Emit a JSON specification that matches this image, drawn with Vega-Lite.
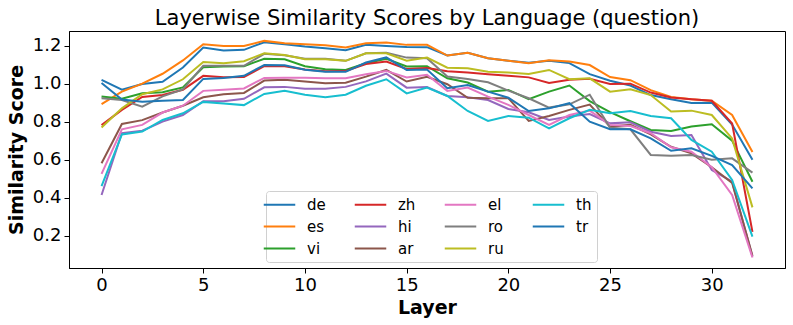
{
  "$schema": "https://vega.github.io/schema/vega-lite/v6.json",
  "width": 716,
  "height": 237,
  "autosize": {"type": "none"},
  "padding": {"left": 69, "top": 31, "right": 8, "bottom": 57},
  "background": "white",
  "title": {"text": "Layerwise Similarity Scores by Language (question)", "fontSize": 21, "font": "DejaVu Sans", "fontWeight": "normal", "color": "black", "anchor": "middle", "baseline": "alphabetic", "frame": "group", "offset": 7, "dy": 22},
  "config": {
    "view": {"stroke": "black", "strokeWidth": 1},
    "axis": {"grid": false, "domainColor": "black", "tickColor": "black", "labelColor": "black", "titleColor": "black", "labelFont": "DejaVu Sans", "titleFont": "DejaVu Sans", "labelFontSize": 18, "titleFontSize": 19, "titleFontWeight": "bold", "tickSize": 5, "labelPadding": 3}
  },
  "data": {"values": [
    {"layer":0,"de":1.02,"es":0.892,"vi":0.932,"zh":0.782,"hi":0.414,"ar":0.581,"el":0.525,"ro":0.923,"ru":0.769,"th":0.461,"tr":1.003},
    {"layer":1,"de":0.968,"es":0.958,"vi":0.921,"zh":0.862,"hi":0.74,"ar":0.788,"el":0.76,"ro":0.914,"ru":0.87,"th":0.733,"tr":0.916},
    {"layer":2,"de":0.998,"es":1.0,"vi":0.949,"zh":0.93,"hi":0.752,"ar":0.808,"el":0.783,"ro":0.879,"ru":0.944,"th":0.748,"tr":0.905},
    {"layer":3,"de":1.01,"es":1.052,"vi":0.955,"zh":0.94,"hi":0.8,"ar":0.848,"el":0.848,"ro":0.933,"ru":0.97,"th":0.809,"tr":0.91},
    {"layer":4,"de":1.085,"es":1.122,"vi":0.98,"zh":0.968,"hi":0.835,"ar":0.884,"el":0.884,"ro":0.97,"ru":1.023,"th":0.844,"tr":0.914},
    {"layer":5,"de":1.19,"es":1.207,"vi":1.086,"zh":1.041,"hi":0.908,"ar":0.928,"el":0.962,"ro":1.094,"ru":1.114,"th":0.904,"tr":1.025},
    {"layer":6,"de":1.175,"es":1.198,"vi":1.09,"zh":1.034,"hi":0.908,"ar":0.944,"el":0.968,"ro":1.094,"ru":1.107,"th":0.895,"tr":1.03},
    {"layer":7,"de":1.178,"es":1.198,"vi":1.092,"zh":1.035,"hi":0.92,"ar":0.951,"el":0.975,"ro":1.094,"ru":1.118,"th":0.887,"tr":1.041},
    {"layer":8,"de":1.218,"es":1.225,"vi":1.131,"zh":1.092,"hi":0.981,"ar":1.016,"el":1.03,"ro":1.157,"ru":1.16,"th":0.946,"tr":1.098},
    {"layer":9,"de":1.207,"es":1.213,"vi":1.128,"zh":1.092,"hi":0.983,"ar":1.02,"el":1.031,"ro":1.149,"ru":1.151,"th":0.962,"tr":1.097},
    {"layer":10,"de":1.195,"es":1.207,"vi":1.092,"zh":1.074,"hi":0.973,"ar":1.011,"el":1.031,"ro":1.131,"ru":1.128,"th":0.942,"tr":1.073},
    {"layer":11,"de":1.186,"es":1.202,"vi":1.076,"zh":1.065,"hi":0.973,"ar":1.002,"el":1.028,"ro":1.131,"ru":1.128,"th":0.929,"tr":1.062},
    {"layer":12,"de":1.176,"es":1.19,"vi":1.072,"zh":1.066,"hi":0.983,"ar":1.005,"el":1.028,"ro":1.12,"ru":1.12,"th":0.942,"tr":1.062},
    {"layer":13,"de":1.204,"es":1.212,"vi":1.107,"zh":1.103,"hi":1.012,"ar":1.037,"el":1.049,"ro":1.16,"ru":1.16,"th":0.989,"tr":1.111},
    {"layer":14,"de":1.198,"es":1.217,"vi":1.131,"zh":1.116,"hi":1.053,"ar":1.072,"el":1.067,"ro":1.163,"ru":1.16,"th":1.023,"tr":1.138},
    {"layer":15,"de":1.193,"es":1.204,"vi":1.09,"zh":1.077,"hi":0.979,"ar":1.011,"el":1.032,"ro":1.137,"ru":1.121,"th":0.949,"tr":1.072},
    {"layer":16,"de":1.192,"es":1.204,"vi":1.092,"zh":1.082,"hi":0.982,"ar":1.036,"el":1.047,"ro":1.134,"ru":1.137,"th":0.979,"tr":1.075},
    {"layer":17,"de":1.148,"es":1.148,"vi":1.028,"zh":1.065,"hi":0.935,"ar":0.997,"el":0.962,"ro":1.037,"ru":1.084,"th":0.935,"tr":0.976},
    {"layer":18,"de":1.163,"es":1.163,"vi":1.006,"zh":1.058,"hi":0.928,"ar":0.926,"el":0.979,"ro":1.025,"ru":1.081,"th":0.856,"tr":0.993},
    {"layer":19,"de":1.134,"es":1.134,"vi":0.958,"zh":1.05,"hi":0.914,"ar":0.923,"el":0.932,"ro":1.007,"ru":1.063,"th":0.804,"tr":0.958},
    {"layer":20,"de":1.121,"es":1.121,"vi":0.967,"zh":1.041,"hi":0.867,"ar":0.923,"el":0.888,"ro":0.963,"ru":1.058,"th":0.83,"tr":0.926},
    {"layer":21,"de":1.11,"es":1.107,"vi":0.918,"zh":1.033,"hi":0.849,"ar":0.804,"el":0.835,"ro":0.923,"ru":1.051,"th":0.821,"tr":0.856},
    {"layer":22,"de":1.121,"es":1.123,"vi":0.958,"zh":1.004,"hi":0.809,"ar":0.83,"el":0.783,"ro":0.874,"ru":1.072,"th":0.765,"tr":0.87},
    {"layer":23,"de":1.108,"es":1.116,"vi":0.99,"zh":1.02,"hi":0.827,"ar":0.862,"el":0.835,"ro":0.891,"ru":1.023,"th":0.818,"tr":0.897},
    {"layer":24,"de":1.05,"es":1.098,"vi":0.908,"zh":1.026,"hi":0.84,"ar":0.89,"el":0.858,"ro":0.942,"ru":1.028,"th":0.862,"tr":0.8},
    {"layer":25,"de":1.015,"es":1.035,"vi":0.85,"zh":0.998,"hi":0.791,"ar":0.774,"el":0.783,"ro":0.768,"ru":0.958,"th":0.844,"tr":0.76},
    {"layer":26,"de":0.99,"es":1.018,"vi":0.802,"zh":1.0,"hi":0.797,"ar":0.783,"el":0.777,"ro":0.76,"ru":0.97,"th":0.856,"tr":0.76},
    {"layer":27,"de":0.94,"es":0.966,"vi":0.756,"zh":0.953,"hi":0.747,"ar":0.733,"el":0.739,"ro":0.625,"ru":0.94,"th":0.83,"tr":0.712},
    {"layer":28,"de":0.918,"es":0.93,"vi":0.751,"zh":0.927,"hi":0.725,"ar":0.668,"el":0.665,"ro":0.62,"ru":0.853,"th":0.818,"tr":0.647},
    {"layer":29,"de":0.898,"es":0.918,"vi":0.774,"zh":0.918,"hi":0.73,"ar":0.633,"el":0.642,"ro":0.625,"ru":0.858,"th":0.704,"tr":0.66},
    {"layer":30,"de":0.9,"es":0.91,"vi":0.786,"zh":0.91,"hi":0.546,"ar":0.56,"el":0.56,"ro":0.6,"ru":0.835,"th":0.642,"tr":0.62},
    {"layer":31,"de":0.785,"es":0.835,"vi":0.7,"zh":0.79,"hi":0.484,"ar":0.478,"el":0.414,"ro":0.607,"ru":0.712,"th":0.493,"tr":0.572},
    {"layer":32,"de":0.6,"es":0.64,"vi":0.484,"zh":0.22,"hi":0.09,"ar":0.095,"el":0.085,"ro":0.532,"ru":0.349,"th":0.195,"tr":0.449}
  ]},
  "transform": [{"fold": ["de","es","vi","zh","hi","ar","el","ro","ru","th","tr"], "as": ["lang","score"]}],
  "mark": {"type": "line", "strokeWidth": 2, "clip": true},
  "encoding": {
    "x": {"field": "layer", "type": "quantitative", "scale": {"domain": [-1.6, 33.6], "nice": false, "zero": false}, "axis": {"values": [0,5,10,15,20,25,30], "title": "Layer", "titlePadding": 4}},
    "y": {"field": "score", "type": "quantitative", "scale": {"domain": [0.03, 1.277], "nice": false, "zero": false}, "axis": {"values": [0.2,0.4,0.6,0.8,1.0,1.2], "format": ".1f", "title": "Similarity Score", "titlePadding": 6}},
    "color": {"field": "lang", "type": "nominal",
      "scale": {"domain": ["de","es","vi","zh","hi","ar","el","ro","ru","th","tr"],
                "range": ["#1f77b4","#ff7f0e","#2ca02c","#d62728","#9467bd","#8c564b","#e377c2","#7f7f7f","#bcbd22","#17becf","#1f77b4"]},
      "legend": {"title": null, "orient": "none", "legendX": 197, "legendY": 160, "columns": 4, "symbolType": "M-2.1,0H2.1", "symbolSize": 225, "symbolStrokeWidth": 2, "labelFontSize": 15, "labelFont": "DejaVu Sans", "labelColor": "black", "labelOffset": 19, "columnPadding": 24, "rowPadding": 5, "padding": 5, "fillColor": "white", "strokeColor": "#d0d0d0", "cornerRadius": 3}
    },
    "order": {"field": "layer", "type": "quantitative"}
  }
}
